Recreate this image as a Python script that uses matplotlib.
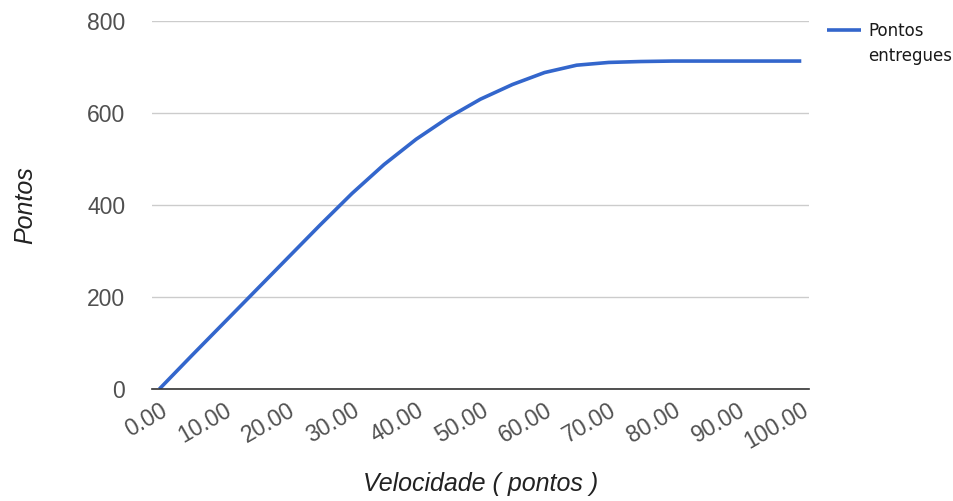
import numpy as np
import matplotlib
matplotlib.use("Agg")
import matplotlib.pyplot as plt
from matplotlib.legend_handler import HandlerLine2D

# data
velocidade = [0, 5, 10, 15, 20, 25, 30, 35, 40, 45, 50, 55, 60, 65, 70, 75, 80, 85, 90, 95, 100]
pontos = [0, 72, 143, 214, 285, 356, 425, 488, 543, 590, 630, 662, 688, 704, 710, 712, 713, 713, 713, 713, 713]
x_ticks = [0, 10, 20, 30, 40, 50, 60, 70, 80, 90, 100]
y_ticks = [0, 200, 400, 600, 800]

plt.rcParams['font.family'] = ['Liberation Sans', 'DejaVu Sans']


class TopLineHandler(HandlerLine2D):
    # puts the legend line next to the first text line instead of the middle
    def create_artists(self, legend, orig_handle, xdescent, ydescent, width, height, fontsize, trans):
        return super().create_artists(legend, orig_handle, xdescent, ydescent - 1.8 * fontsize,
                                      width, height, fontsize, trans)


fig = plt.figure(figsize=(9.54, 5.01), dpi=100)
ax = fig.add_axes([0.159, 0.2236, 0.689, 0.7344])

line, = ax.plot(velocidade, pontos, color='#3366cc', linewidth=2.6, solid_capstyle='butt',
                label='Pontos\nentregues')

ax.set_xlim(-1.2, 101.2)
ax.set_ylim(0, 800)
ax.set_xticks(x_ticks)
ax.set_xticklabels([f"{v:.2f}" for v in x_ticks], rotation=30, ha='right',
                   rotation_mode='anchor', fontsize=16.5, color='#505050')
ax.set_yticks(y_ticks)
ax.set_yticklabels([str(v) for v in y_ticks], fontsize=16.5, color='#505050')

ax.grid(axis='y', color='#cccccc', linewidth=1)
ax.set_axisbelow(True)
for s in ['top', 'right', 'left']:
    ax.spines[s].set_visible(False)
ax.spines['bottom'].set_color('#333333')
ax.spines['bottom'].set_linewidth(1.2)
ax.tick_params(axis='x', length=0, pad=7)
ax.tick_params(axis='y', length=0, pad=19)

ax.set_xlabel("Velocidade ( pontos )", fontsize=18, style='italic', color='#222222', labelpad=13)
ax.set_ylabel("Pontos", fontsize=18, style='italic', color='#222222', labelpad=36)

leg = ax.legend(loc='upper left', bbox_to_anchor=(1.018, 1.015), frameon=False,
                handlelength=2.0, handletextpad=0.45, borderaxespad=0,
                handler_map={line: TopLineHandler()},
                prop={'family': 'DejaVu Sans', 'size': 12})
for t in leg.get_texts():
    t.set_color('#1a1a1a')
    t.set_linespacing(1.5)

fig.savefig("out.png", dpi=100)
